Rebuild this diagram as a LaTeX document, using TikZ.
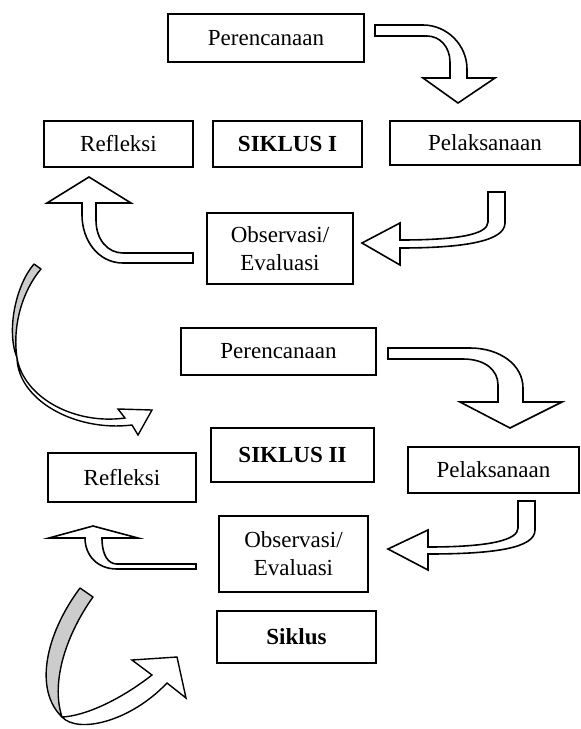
\documentclass[tikz,border=0pt]{standalone}
\usepackage{fontspec}
\setmainfont{Liberation Serif}
\begin{document}
\begin{tikzpicture}[x=1pt,y=-1pt,
 box/.style={draw, line width=1.7pt, inner sep=0pt, align=center, font=\fontsize{23}{28}\selectfont},
 boldbox/.style={box, font=\fontsize{23}{28}\selectfont\bfseries},
 blockarrow/.style={draw, fill=white, line width=1.6pt, line join=miter},
 ribbon/.style={draw, fill=gray!40, line width=1.4pt, line join=round},
 whiteribbon/.style={draw, fill=white, line width=1.4pt, line join=miter}]
\useasboundingbox (0,0) rectangle (581,729);

% ---------- Cycle I ----------
\node[box, minimum width=196pt, minimum height=48pt] (p1) at (266,38) {Perencanaan};
\node[box, minimum width=149pt, minimum height=46pt] (r1) at (118.5,144) {Refleksi};
\node[boldbox, minimum width=149pt, minimum height=46pt] (s1) at (287.5,144) {SIKLUS I};
\node[box, minimum width=190pt, minimum height=44pt] (l1) at (485,143) {Pelaksanaan};
\node[box, minimum width=146pt, minimum height=71pt] (o1) at (280,248.5) {Observasi/\\Evaluasi};

% Perencanaan -> Pelaksanaan
\draw[blockarrow] (375,25) -- (423,25) .. controls (447,25) and (467,45) .. (467,69)
  -- (467,78) -- (495,78) -- (458,103) -- (423,78) -- (450,78) -- (450,62)
  .. controls (450,47) and (440,36) .. (427,36) -- (375,36) -- cycle;
% Pelaksanaan -> Observasi
\draw[blockarrow] (488,192) -- (505,192) -- (505,223) .. controls (505,242) and (460,248) .. (400,248)
  -- (400,265) -- (362,243) -- (400,223) -- (400,240)
  .. controls (455,240) and (488,235) .. (488,222) -- cycle;
% Observasi -> Refleksi
\draw[blockarrow] (193,253) -- (193,263) -- (123,263) .. controls (98,263) and (82,240) .. (82,215)
  -- (82,203) -- (47,203) -- (89,177) -- (131,203) -- (96,203) -- (96,220)
  .. controls (96,240) and (108,253) .. (123,253) -- cycle;

% Refleksi I -> Cycle II (curved ribbon arrow)
\draw[whiteribbon] (17,358) .. controls (24,398) and (75,425) .. (125,418)
  -- (118,409) -- (152,410) -- (138,435) -- (132,425)
  .. controls (75,432) and (18,400) .. (17,358) -- cycle;
\draw[ribbon] (34,264) -- (41,269) .. controls (23,290) and (12,325) .. (17,358)
  .. controls (6,330) and (16,285) .. (34,264) -- cycle;

% ---------- Cycle II ----------
\node[box, minimum width=195pt, minimum height=47pt] (p2) at (278.5,351.5) {Perencanaan};
\node[boldbox, minimum width=163pt, minimum height=54pt] (s2) at (292.5,455) {SIKLUS II};
\node[box, minimum width=148pt, minimum height=49pt] (r2) at (122,477.5) {Refleksi};
\node[box, minimum width=171pt, minimum height=46pt] (l2) at (493.5,470) {Pelaksanaan};
\node[box, minimum width=149pt, minimum height=76pt] (o2) at (293.5,554) {Observasi/\\Evaluasi};
\node[boldbox, minimum width=159pt, minimum height=52pt] (sk) at (296.5,637) {Siklus};

% Perencanaan -> Pelaksanaan
\draw[blockarrow] (388,348) -- (470,348) .. controls (500,348) and (523,365) .. (523,388)
  -- (523,402) -- (562,402) -- (510,428) -- (460,402) -- (498,402) -- (498,385)
  .. controls (498,370) and (485,359) .. (463,359) -- (388,359) -- cycle;
% Pelaksanaan -> Observasi
\draw[blockarrow] (518,501) -- (535,501) -- (535,530) .. controls (535,548) and (495,554) .. (428,554)
  -- (428,570) -- (388,549) -- (428,530) -- (428,547)
  .. controls (490,547) and (518,540) .. (518,528) -- cycle;
% Observasi -> Refleksi
\draw[blockarrow] (196,564) -- (196,569) -- (117,569) .. controls (97,569) and (85,555) .. (85,538)
  -- (49,538) -- (93,526) -- (138,538) -- (102,538)
  .. controls (102,555) and (108,564) .. (117,564) -- cycle;

% Refleksi II -> Siklus (curved ribbon arrow)
\draw[whiteribbon] (62,717) .. controls (78,734) and (130,722) .. (167,683)
  -- (186,698) -- (177,657) -- (132,660) -- (152,675)
  .. controls (120,700) and (85,716) .. (62,717) -- cycle;
\draw[ribbon] (80,588) -- (93,597) .. controls (68,632) and (50,680) .. (62,717)
  .. controls (34,690) and (45,635) .. (80,588) -- cycle;
\end{tikzpicture}
\end{document}
